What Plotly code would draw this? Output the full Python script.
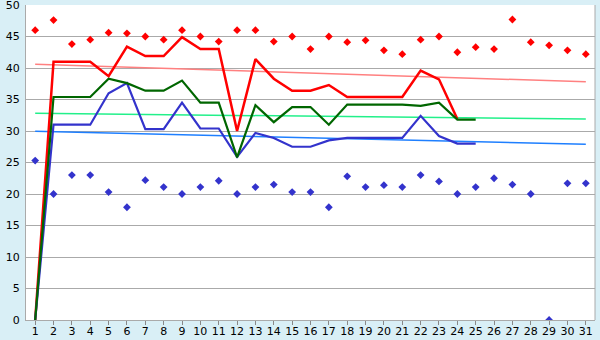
import plotly.graph_objects as go

days = list(range(1, 32))
max_pts = [46.0, 47.6, 43.8, 44.5, 45.6, 45.5, 45.0, 44.5, 46.0, 45.0, 44.2, 46.0, 46.0, 44.2, 45.0, 43.0,
           45.0, 44.1, 44.4, 42.8, 42.2, 44.5, 45.0, 42.5, 43.3, 43.0, 47.7, 44.1, 43.6, 42.8, 42.2]
min_pts = [25.3, 20.0, 23.0, 23.0, 20.3, 17.9, 22.2, 21.1, 20.0, 21.1, 22.1, 20.0, 21.1, 21.5, 20.3, 20.3,
           17.9, 22.8, 21.1, 21.4, 21.1, 23.0, 22.0, 20.0, 21.1, 22.5, 21.5, 20.0, 0.0, 21.7, 21.7]
red_line = [0, 41.0, 41.0, 41.0, 38.7, 43.4, 41.9, 41.9, 44.9, 43.0, 43.0, 30.0, 41.4, 38.3, 36.4, 36.4,
            37.3, 35.4, 35.4, 35.4, 35.4, 39.6, 38.2, 31.9]
green_line = [0, 35.4, 35.4, 35.4, 38.3, 37.6, 36.4, 36.4, 38.0, 34.5, 34.5, 25.8, 34.1, 31.4, 33.8, 33.8,
              31.0, 34.2, 34.2, 34.2, 34.2, 34.0, 34.5, 31.8, 31.8]
blue_line = [0, 31.0, 31.0, 31.0, 36.0, 37.6, 30.3, 30.3, 34.5, 30.4, 30.4, 25.9, 29.7, 28.9, 27.5, 27.5,
             28.5, 28.9, 28.9, 28.9, 28.9, 32.4, 29.2, 28.0, 28.0]
trend_x = [1, 31]
red_trend = [40.6, 37.8]
green_trend = [32.8, 31.9]
blue_trend = [29.95, 27.9]
y_ticks = list(range(0, 51, 5))

fig = go.Figure()
fig.add_trace(go.Scatter(x=trend_x, y=red_trend, mode="lines", line=dict(color="#FF8080", width=1.5)))
fig.add_trace(go.Scatter(x=trend_x, y=green_trend, mode="lines", line=dict(color="#22F08A", width=1.5)))
fig.add_trace(go.Scatter(x=trend_x, y=blue_trend, mode="lines", line=dict(color="#1E7FFF", width=1.5)))
fig.add_trace(go.Scatter(x=days[:len(red_line)], y=red_line, mode="lines", line=dict(color="#FF0000", width=2.5)))
fig.add_trace(go.Scatter(x=days[:len(blue_line)], y=blue_line, mode="lines", line=dict(color="#3333CC", width=2.2)))
fig.add_trace(go.Scatter(x=days[:len(green_line)], y=green_line, mode="lines", line=dict(color="#006600", width=2.2)))
fig.add_trace(go.Scatter(x=days, y=max_pts, mode="markers",
                         marker=dict(symbol="diamond", size=6, color="#FF0000")))
fig.add_trace(go.Scatter(x=days, y=min_pts, mode="markers",
                         marker=dict(symbol="diamond", size=6, color="#3333CC")))

fig.update_layout(
    width=600, height=340,
    margin=dict(l=26, r=5, t=5, b=20),
    paper_bgcolor="#D9EFF6", plot_bgcolor="#FFFFFF",
    showlegend=False,
    font=dict(family="DejaVu Sans", size=11, color="#000000"),
)
fig.update_xaxes(range=[0.5, 31.5], tickvals=days, ticktext=[str(d) for d in days], automargin=False,
                 showgrid=False, showline=True, linecolor="#AAAAAA", linewidth=1,
                 ticks="outside", ticklen=4, tickcolor="#888888", mirror=False, zeroline=False,
                 ticklabelstandoff=-3, ticklabeloverflow="allow")
fig.update_yaxes(range=[0, 50], tickvals=y_ticks, showgrid=True, gridcolor="#AAAAAA", gridwidth=1,
                 automargin=False, ticklabeloverflow="allow",
                 showline=True, linecolor="#AAAAAA", linewidth=1, ticks="", zeroline=False, ticklabelstandoff=3)
fig.add_shape(type="line", xref="paper", yref="paper", x0=1, x1=1, y0=0, y1=1,
              line=dict(color="#AAAAAA", width=1))

fig.write_html("out.html")
